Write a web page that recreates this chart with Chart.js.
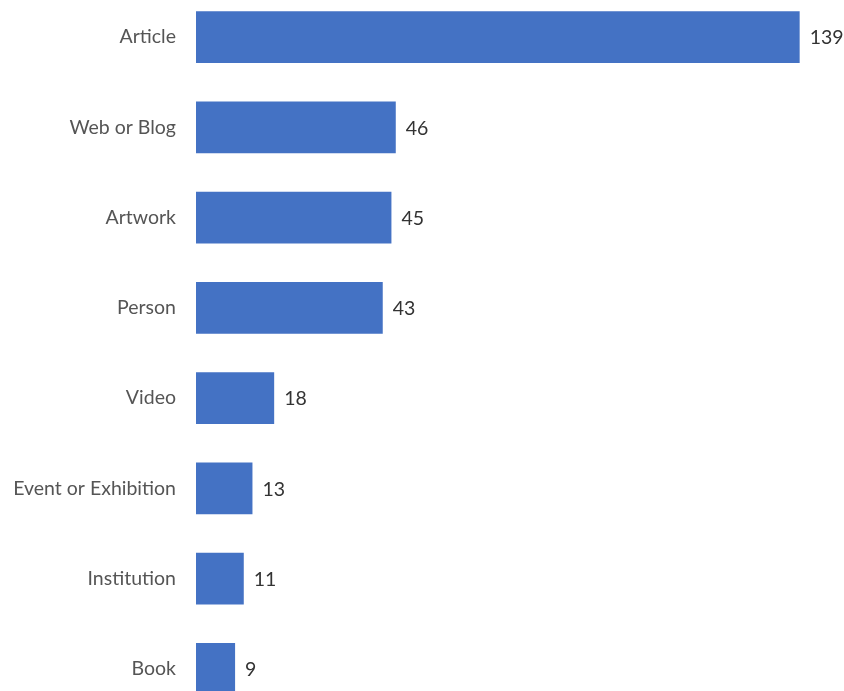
<!DOCTYPE html>
<html>
<head>
<meta charset="utf-8">
<script src="https://cdn.jsdelivr.net/npm/chart.js@4"></script>
<style>
  html, body { margin: 0; padding: 0; background: #fff; overflow: hidden; }
  body { width: 844px; height: 691px; position: relative; }
  #chart { position: absolute; left: 0; top: -8px; }
</style>
</head>
<body>
<canvas id="chart" width="844" height="722"></canvas>
<script>
// Counts per source type
const categories = ['Article', 'Web or Blog', 'Artwork', 'Person', 'Video', 'Event or Exhibition', 'Institution', 'Book'];
const counts = [139, 46, 45, 43, 18, 13, 11, 9];

const fontFamily = "Lato, 'Open Sans', sans-serif";

// Draw the count just right of each bar
const valueLabels = {
    id: 'valueLabels',
    afterDatasetsDraw(chart) {
        const ctx = chart.ctx;
        const meta = chart.getDatasetMeta(0);
        ctx.save();
        ctx.font = '19.5px ' + fontFamily;
        ctx.fillStyle = '#333333';
        ctx.textAlign = 'left';
        ctx.textBaseline = 'middle';
        meta.data.forEach((bar, i) => {
            ctx.fillText(String(counts[i]), bar.x + 10, bar.y + 1);
        });
        ctx.restore();
    }
};

const ctx = document.getElementById('chart').getContext('2d');
const chart = new Chart(ctx, {
    type: 'bar',
    data: {
        labels: categories,
        datasets: [{
            data: counts,
            backgroundColor: '#4472C4',
            borderWidth: 0,
            categoryPercentage: 1,
            barPercentage: 0.575
        }]
    },
    options: {
        indexAxis: 'y',
        responsive: false,
        animation: false,
        layout: {
            padding: { left: 0, right: 40, top: 0, bottom: 0 }
        },
        scales: {
            x: {
                display: false,
                min: 0,
                max: 140
            },
            y: {
                grid: { display: false, drawTicks: false },
                border: { display: false },
                afterFit(scale) {
                    scale.width = 196;
                    scale.paddingTop = 0;
                    scale.paddingBottom = 0;
                },
                ticks: {
                    padding: 20,
                    color: '#555555',
                    font: { family: fontFamily, size: 19.5 }
                }
            }
        },
        plugins: {
            legend: { display: false },
            tooltip: { enabled: false }
        }
    },
    plugins: [valueLabels]
});
</script>
</body>
</html>
